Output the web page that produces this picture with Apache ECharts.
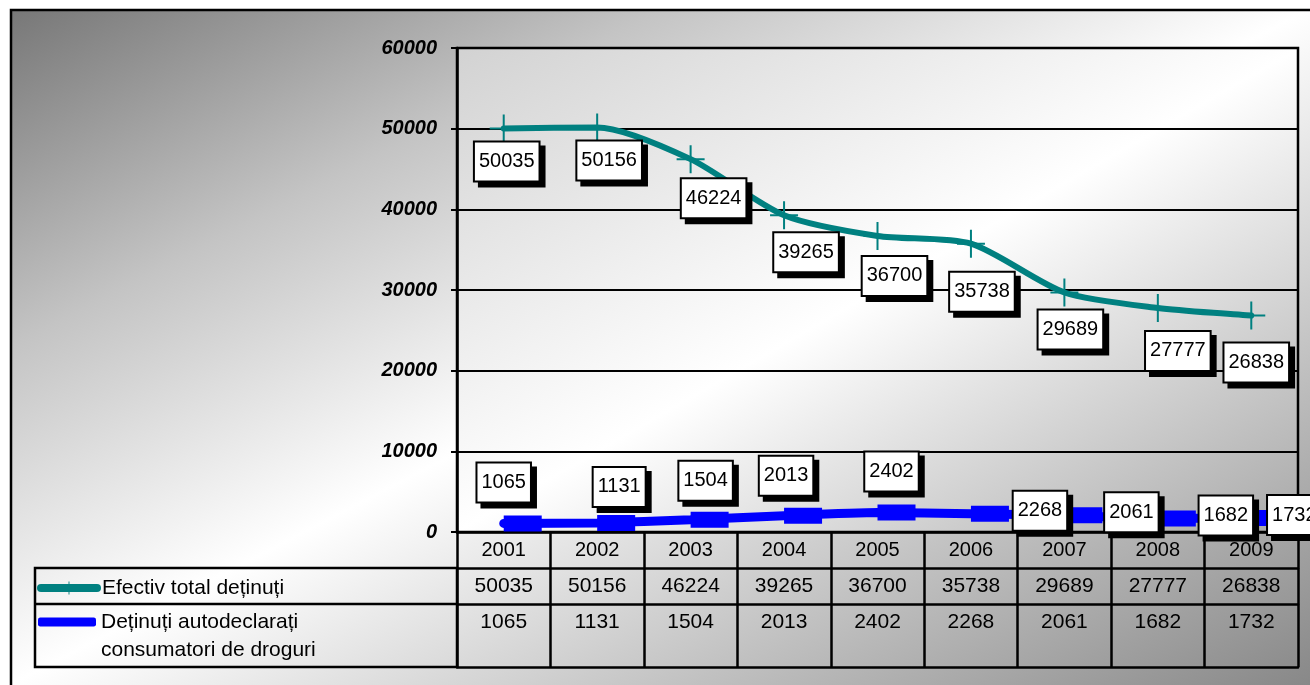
<!DOCTYPE html>
<html>
<head>
<meta charset="utf-8">
<script src="https://cdn.jsdelivr.net/npm/echarts@6/dist/echarts.min.js"></script>
<style>
  html, body { margin: 0; padding: 0; background: #fff; }
  #chart { width: 1310px; height: 685px; }
</style>
</head>
<body>
<div id="chart"></div>
<script>
// ---- data ----
const years = ['2001', '2002', '2003', '2004', '2005', '2006', '2007', '2008', '2009'];
const efectivTotal = [50035, 50156, 46224, 39265, 36700, 35738, 29689, 27777, 26838];
const consumatoriDroguri = [1065, 1131, 1504, 2013, 2402, 2268, 2061, 1682, 1732];
const seriesNames = ['Efectiv total deținuți', 'Deținuți autodeclarați\nconsumatori de droguri'];
const yMin = 0, yMax = 60000, yStep = 10000;

// ---- label nudges (px from each point) ----
const tealLabelShift = [[3, 33], [12, 33], [23, 39], [22, 37], [17, 40], [11, 48], [6, 37], [20, 43], [5, 47]];
const blueLabelShift = [[0, -41], [22, -36], [15, -39], [2, -40], [14, -41], [69, -3], [67, -3], [68, -3], [43, -3]];

const FONT = '"Liberation Sans", Arial, sans-serif';
const TEAL = '#008080';
const BLUE = '#0000ff';
const BLUE_MARK_SHIFT = 19;   // dash marker sits to the right of its point

const boxLabel = {
  show: true,
  position: 'inside',
  color: '#000',
  fontFamily: FONT,
  fontSize: 20,
  lineHeight: 22,
  backgroundColor: '#fff',
  borderColor: '#000',
  borderWidth: 2,
  padding: [8, 4],
  shadowColor: '#000',
  shadowOffsetX: 5,
  shadowOffsetY: 5,
  shadowBlur: 0
};

// anti-diagonal gradient (light band along the box's other diagonal)
function diagGradient(w, h, stops) {
  const d = w * w + h * h;
  return {
    type: 'linear', x: 0, y: 0,
    x2: 2 * h * h / d, y2: 2 * w * w / d,
    colorStops: stops
  };
}

function tableAxis(offset, tickLen, fontSize, formatter, showLabel) {
  return {
    type: 'category',
    data: years,
    gridIndex: 0,
    position: 'bottom',
    offset: offset,
    boundaryGap: true,
    axisLine: { show: true, onZero: false, lineStyle: { color: '#000', width: 2.5 } },
    axisTick: { show: tickLen > 0, length: tickLen, interval: 0, alignWithLabel: false,
                lineStyle: { color: '#000', width: 2.5 } },
    axisLabel: { show: showLabel, interval: 0, margin: 8, color: '#000',
                 fontFamily: FONT, fontSize: fontSize, formatter: formatter },
    splitLine: { show: false },
    axisPointer: { show: false }
  };
}

const chart = echarts.init(document.getElementById('chart'), null, { renderer: 'canvas' });

const frameW = 1300, frameH = 676;

chart.setOption({
  animation: false,
  backgroundColor: '#fff',
  textStyle: { fontFamily: FONT },
  graphic: [
    {
      type: 'rect', z: -100, silent: true,
      shape: { x: 11, y: 10, width: 1320, height: 700 },
      style: {
        fill: {
          type: 'linear', global: true,
          x: 10, y: 9,
          x2: 10 + 2 * frameH * frameH / (frameW * frameW + frameH * frameH) * frameW,
          y2: 9 + 2 * frameW * frameW / (frameW * frameW + frameH * frameH) * frameH,
          colorStops: [
            { offset: 0, color: '#777777' },
            { offset: 0.25, color: '#c4c4c4' },
            { offset: 0.5, color: '#ffffff' },
            { offset: 1, color: '#888888' }
          ]
        },
        stroke: '#000', lineWidth: 2.5
      }
    },
    {
      type: 'rect', z: 10, silent: true,
      shape: { x: 35, y: 568, width: 422, height: 99 },
      style: { fill: 'none', stroke: '#000', lineWidth: 2.5 }
    },
    {
      type: 'line', z: 10, silent: true,
      shape: { x1: 35, y1: 604, x2: 457, y2: 604 },
      style: { stroke: '#000', lineWidth: 2.5 }
    }
  ],
  legend: [
    {
      data: [seriesNames[0]],
      orient: 'vertical', left: 37, top: 574, padding: 0,
      itemWidth: 56, itemHeight: 16,
      lineStyle: { width: 8, cap: 'round', color: TEAL },
      textStyle: { color: '#000', fontFamily: FONT, fontSize: 21, lineHeight: 28 },
      selectedMode: false
    },
    {
      data: [{ name: seriesNames[1], icon: 'roundRect' }],
      orient: 'vertical', left: 38, top: 580, padding: 0,
      itemWidth: 58, itemHeight: 9,
      textStyle: { color: '#000', fontFamily: FONT, fontSize: 21, lineHeight: 28 },
      formatter: name => '\n' + name,
      selectedMode: false
    }
  ],
  grid: {
    left: 457, right: 12, top: 48, bottom: 153,
    show: true,
    borderColor: '#000', borderWidth: 2.5,
    backgroundColor: diagGradient(841, 484, [
      { offset: 0, color: '#d2d2d2' },
      { offset: 0.5, color: '#ffffff' },
      { offset: 1, color: '#a8a8a8' }
    ]),
    containLabel: false,
    outerBoundsMode: 'none'
  },
  xAxis: [
    tableAxis(0, 36, 20, v => v, true),
    tableAxis(36, 36, 21, (v, i) => String(efectivTotal[i]), true),
    tableAxis(72, 63, 21, (v, i) => String(consumatoriDroguri[i]), true),
    tableAxis(135, 0, 21, v => '', false)
  ],
  yAxis: {
    type: 'value',
    min: yMin, max: yMax, interval: yStep,
    axisLine: { show: true, lineStyle: { color: '#000', width: 2.5 } },
    axisTick: { show: true, inside: false, length: 6, lineStyle: { color: '#000', width: 2 } },
    axisLabel: { margin: 20, color: '#000', fontFamily: FONT, fontSize: 20,
                 fontWeight: 'bold', fontStyle: 'italic', formatter: v => String(v) },
    splitLine: { show: true, lineStyle: { color: '#000', width: 2 } }
  },
  series: [
    {
      name: seriesNames[0],
      type: 'line',
      xAxisIndex: 0,
      data: efectivTotal.map((v, i) => ({ value: v, label: { offset: tealLabelShift[i] } })),
      smooth: 0.25,
      symbol: 'path://M13,0h2v28h-2zM0,13h28v2h-28z',
      symbolSize: 28,
      showAllSymbol: true,
      lineStyle: { color: TEAL, width: 6, cap: 'round' },
      itemStyle: { color: TEAL },
      label: boxLabel,
      emphasis: { disabled: true },
      z: 3
    },
    {
      name: seriesNames[1],
      type: 'line',
      xAxisIndex: 0,
      data: consumatoriDroguri.map((v, i) => ({
        value: v,
        label: { offset: [blueLabelShift[i][0] - BLUE_MARK_SHIFT, blueLabelShift[i][1]] }
      })),
      smooth: 0.2,
      symbol: 'rect',
      symbolSize: [38, 16],
      symbolOffset: [BLUE_MARK_SHIFT, 0],
      showAllSymbol: true,
      lineStyle: { color: BLUE, width: 9, cap: 'round' },
      itemStyle: { color: BLUE },
      label: boxLabel,
      emphasis: { disabled: true },
      z: 4
    }
  ]
});
</script>
</body>
</html>
